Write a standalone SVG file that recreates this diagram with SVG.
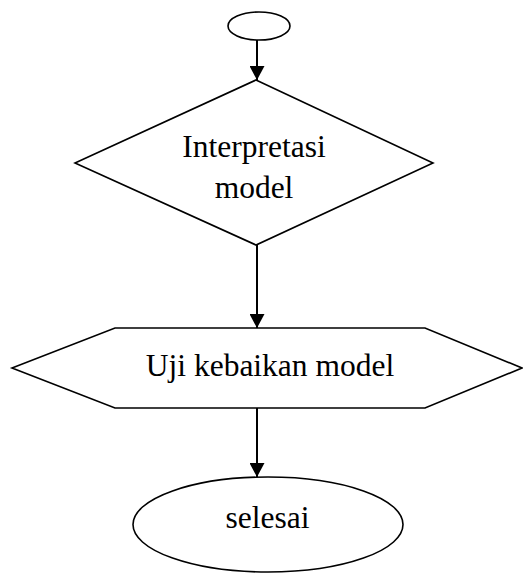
<svg xmlns="http://www.w3.org/2000/svg" width="523" height="574" viewBox="0 0 523 574">
<defs>
<style>
.shape{fill:#fff;stroke:#000;stroke-width:1.6}
.lbl{font-family:"Liberation Serif","Times New Roman",serif;font-size:31.5px;fill:#000;text-anchor:middle}
.conn{stroke:#000;stroke-width:2;fill:none}
</style>
<marker id="arr" markerWidth="16" markerHeight="15" refX="15" refY="8" orient="auto" markerUnits="userSpaceOnUse" viewBox="0 0 15 16">
<path d="M0,0 L15,8 L0,16 Z" fill="#000"/>
</marker>
</defs>
<rect width="523" height="574" fill="#fff"/>
<g id="connectors">
<line class="conn" x1="257" y1="40" x2="257" y2="80" marker-end="url(#arr)"/>
<line class="conn" x1="257" y1="245" x2="257" y2="328" marker-end="url(#arr)"/>
<line class="conn" x1="257" y1="408" x2="257" y2="477" marker-end="url(#arr)"/>
</g>
<g id="start">
<ellipse class="shape" cx="259" cy="26" rx="31" ry="14"/>
</g>
<g id="interpretasi">
<polygon class="shape" points="256,80 433,163 256,245 75,163"/>
<text class="lbl" x="254" y="157">Interpretasi</text>
<text class="lbl" x="254" y="198">model</text>
</g>
<g id="uji">
<polygon class="shape" points="115,328 425,328 522,368 425,408 115,408 12,368"/>
<text class="lbl" x="270" y="376">Uji kebaikan model</text>
</g>
<g id="selesai">
<ellipse class="shape" cx="268" cy="524.5" rx="135" ry="47.5"/>
<text class="lbl" x="267.5" y="528">selesai</text>
</g>
</svg>
